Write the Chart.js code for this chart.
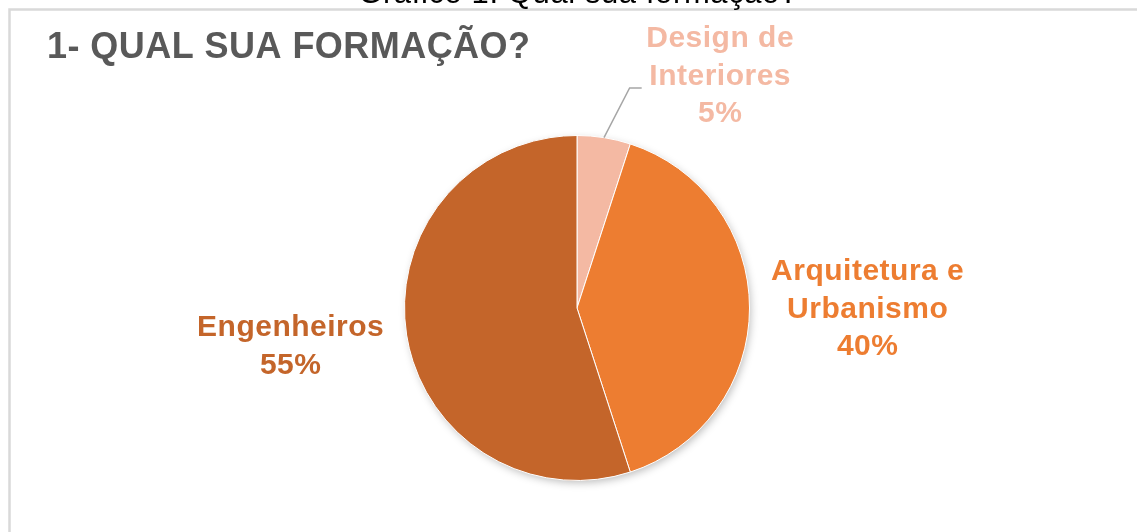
<!DOCTYPE html>
<html>
<head>
<meta charset="utf-8">
<script src="https://cdn.jsdelivr.net/npm/chart.js@4.4.1/dist/chart.umd.min.js"></script>
<style>
  html, body { margin: 0; padding: 0; background: #ffffff; }
  #wrap { position: relative; width: 1137px; height: 532px; overflow: hidden; }
  canvas { position: absolute; left: 0; top: 0; }
</style>
</head>
<body>
<div id="wrap"><canvas id="c" width="1137" height="532"></canvas></div>
<script>
const caption = "Gráfico 1: Qual sua formação?";
const title = "1- QUAL SUA FORMAÇÃO?";
const categories = ["Design de Interiores", "Arquitetura e Urbanismo", "Engenheiros"];
const labelLines = [["Design de", "Interiores"], ["Arquitetura e", "Urbanismo"], ["Engenheiros"]];
const values = [5, 40, 55];
const colors = ["#F4B9A3", "#ED7D31", "#C4652A"];

// label placement: [dx, dy] in units of pie radius from pie centre (first line centre)
const labelPos = [[0.83, -1.56], [1.685, -0.208], [-1.66, 0.115]];

const decor = {
  id: 'decor',
  beforeDraw(chart) {
    const ctx = chart.ctx;
    ctx.save();
    ctx.fillStyle = '#ffffff';
    ctx.fillRect(0, 0, chart.width, chart.height);
    // frame
    ctx.strokeStyle = '#D9D9D9';
    ctx.lineWidth = 2.5;
    ctx.strokeRect(9.5, 9.5, chart.width + 20, chart.height + 20);
    // caption (cut off at top)
    ctx.fillStyle = '#000000';
    ctx.font = '31px "Liberation Sans", Arial, sans-serif';
    ctx.letterSpacing = '0.6px';
    ctx.textAlign = 'center';
    ctx.textBaseline = 'alphabetic';
    ctx.fillText(caption, 578, 3);
    // title
    ctx.fillStyle = '#595959';
    ctx.font = 'bold 36px "Liberation Sans", Arial, sans-serif';
    ctx.letterSpacing = '0.45px';
    ctx.textAlign = 'left';
    ctx.fillText(title, 47, 58);
    ctx.restore();
  },
  beforeDatasetsDraw(chart) {
    const ctx = chart.ctx;
    ctx.save();
    ctx.shadowColor = 'rgba(0,0,0,0.28)';
    ctx.shadowBlur = 9;
    ctx.shadowOffsetX = 2;
    ctx.shadowOffsetY = 3;
    ctx.fillStyle = '#ffffff';
    const a = chart.getDatasetMeta(0).data[0];
    ctx.beginPath();
    ctx.arc(a.x, a.y, a.outerRadius - 1, 0, Math.PI * 2);
    ctx.fill();
    ctx.restore();
  },
  afterDatasetsDraw(chart) {
    const ctx = chart.ctx;
    const meta = chart.getDatasetMeta(0);
    const total = values.reduce((s, v) => s + v, 0);
    ctx.save();
    ctx.font = 'bold 30px "Liberation Sans", Arial, sans-serif';
    ctx.letterSpacing = '0.5px';
    ctx.textAlign = 'center';
    ctx.textBaseline = 'middle';
    meta.data.forEach((arc, i) => {
      const r = arc.outerRadius;
      const cx = arc.x, cy = arc.y;
      const lx = cx + labelPos[i][0] * r;
      const ly = cy + labelPos[i][1] * r;
      const lines = labelLines[i].concat([Math.round(values[i] / total * 100) + '%']);
      ctx.fillStyle = colors[i];
      lines.forEach((t, k) => ctx.fillText(t, lx, ly + k * 37.5));
      if (i === 0) {
        const mid = (arc.startAngle + arc.endAngle) / 2;
        const sx = cx + Math.cos(mid) * r;
        const sy = cy + Math.sin(mid) * r;
        ctx.strokeStyle = '#A6A6A6';
        ctx.lineWidth = 1.5;
        ctx.beginPath();
        ctx.moveTo(sx, sy);
        ctx.lineTo(cx + 0.305 * r, ly + 49);
        ctx.lineTo(cx + 0.375 * r, ly + 49);
        ctx.stroke();
      }
    });
    ctx.restore();
  }
};

new Chart(document.getElementById('c'), {
  type: 'pie',
  data: {
    labels: categories,
    datasets: [{
      data: values,
      backgroundColor: colors,
      borderColor: '#ffffff',
      borderWidth: 1
    }]
  },
  options: {
    responsive: false,
    animation: false,
    layout: { padding: { top: 135, bottom: 51, left: 404, right: 387 } },
    plugins: { legend: { display: false }, tooltip: { enabled: false }, title: { display: false } }
  },
  plugins: [decor]
});
</script>
</body>
</html>
